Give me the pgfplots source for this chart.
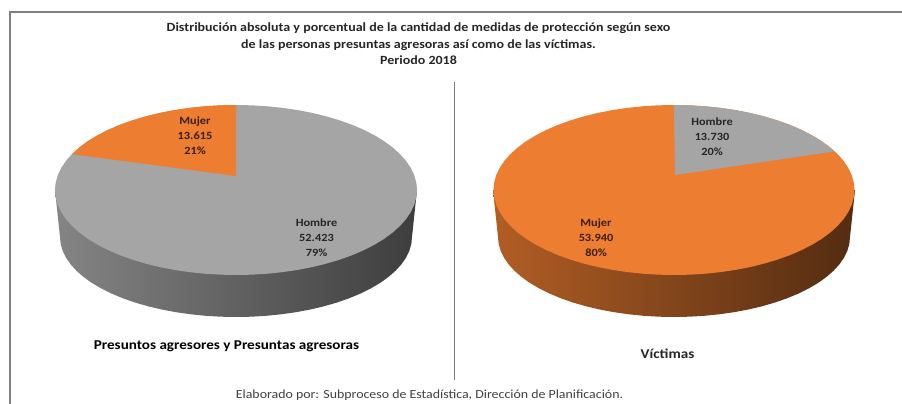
\documentclass[border=0pt]{standalone}
\usepackage{pgfplots}
\usepackage{pgfplotstable}
\pgfplotsset{compat=1.18}
\usepackage{fontspec}
\setmainfont{Carlito}
\newfontfamily\ancha[FakeStretch=1.12]{Carlito}
\definecolor{naranja}{HTML}{ED7D31}
\definecolor{gris}{HTML}{A5A5A5}
\definecolor{marco}{HTML}{7F7F7F}
\definecolor{texto}{HTML}{262626}
\definecolor{textoN}{HTML}{3A1E0C}
\pgfplotstableread{
c s
1 0
.9962 .0872
.9848 .1736
.9659 .2588
.9397 .3420
.9063 .4226
.8660 .5
.8192 .5736
.7660 .6428
.7071 .7071
.6428 .7660
.5736 .8192
.5 .8660
.4226 .9063
.3420 .9397
.2588 .9659
.1736 .9848
.0872 .9962
0 1
-.0872 .9962
-.1736 .9848
-.2588 .9659
-.3420 .9397
-.4226 .9063
-.5 .8660
-.5736 .8192
-.6428 .7660
-.7071 .7071
-.7660 .6428
-.8192 .5736
-.8660 .5
-.9063 .4226
-.9397 .3420
-.9659 .2588
-.9848 .1736
-.9962 .0872
-1 0
-.9962 -.0872
-.9848 -.1736
-.9659 -.2588
-.9397 -.3420
-.9063 -.4226
-.8660 -.5
-.8192 -.5736
-.7660 -.6428
-.7071 -.7071
-.6428 -.7660
-.5736 -.8192
-.5 -.8660
-.4226 -.9063
-.3420 -.9397
-.2588 -.9659
-.1736 -.9848
-.0872 -.9962
0 -1
.0872 -.9962
.1736 -.9848
.2588 -.9659
.3420 -.9397
.4226 -.9063
.5 -.8660
.5736 -.8192
.6428 -.7660
.7071 -.7071
.7660 -.6428
.8192 -.5736
.8660 -.5
.9063 -.4226
.9397 -.3420
.9659 -.2588
.9848 -.1736
.9962 -.0872
}\elipse
\pgfplotstableread{
c s
-1.0284 .5875
-1 0
-.9962 -.0872
-.9848 -.1736
-.9659 -.2588
-.9397 -.3420
-.9063 -.4226
-.8660 -.5
-.8192 -.5736
-.7660 -.6428
-.7071 -.7071
-.6428 -.7660
-.5736 -.8192
-.5 -.8660
-.4226 -.9063
-.3420 -.9397
-.2588 -.9659
-.1736 -.9848
-.0872 -.9962
0 -1
.0872 -.9962
.1736 -.9848
.2588 -.9659
.3420 -.9397
.4226 -.9063
.5 -.8660
.5736 -.8192
.6428 -.7660
.7071 -.7071
.7660 -.6428
.8192 -.5736
.8660 -.5
.9063 -.4226
.9397 -.3420
.9659 -.2588
.9848 -.1736
.9962 -.0872
1 0
1.0284 .5875
}\banda
\tikzset{
  lab/.style={align=center, inner sep=0pt, font=\ancha\bfseries\fontsize{11}{15}\selectfont},
}
\begin{document}
\begin{tikzpicture}
\useasboundingbox (0,0) rectangle (902pt,404pt);
\begin{axis}[
  at={(0,0)}, anchor=south west,
  scale only axis, width=902pt, height=404pt,
  xmin=0, xmax=902, ymin=0, ymax=404, y dir=reverse,
  hide axis, clip=false, no markers,
]
% marco
\addplot[draw=marco, line width=1.2pt, forget plot] coordinates {(10,404) (10,12) (902,12)};
\addplot[draw=marco, line width=1pt, forget plot] coordinates {(454,82) (454,380)};
% pie izquierdo
\addplot[draw=none, left color=black!48, middle color=black!62, right color=black!76, forget plot]
  table[x expr={236+176*\thisrow{c}}, y expr={237-80*\thisrow{s}}] {\banda};
\addplot[draw=none, fill=gris, forget plot]
  table[x expr={236+181*\thisrow{c}}, y expr={190-85*\thisrow{s}}] {\elipse};
\addplot[draw=none, fill=naranja, forget plot] coordinates {
 (236,176) (236,105) (220.2,105.3) (204.6,106.3) (189.2,107.9) (174.1,110.1)
 (159.5,113.0) (145.5,116.4) (132.2,120.4) (119.7,124.9) (108.0,129.9)
 (97.4,135.4) (87.7,141.2) (79.3,147.5) (72,154.1)};
% pie derecho
\addplot[draw=none, left color=naranja!75!black, middle color=naranja!58!black, right color=naranja!35!black, forget plot]
  table[x expr={674+176*\thisrow{c}}, y expr={237-80*\thisrow{s}}] {\banda};
\addplot[draw=none, fill=naranja, forget plot]
  table[x expr={674+180.5*\thisrow{c}}, y expr={190-85*\thisrow{s}}] {\elipse};
\addplot[draw=none, fill=gris, forget plot] coordinates {
 (675,175) (674,105) (689.7,105.3) (705.2,106.3) (720.6,107.9) (735.6,110.1)
 (750.1,113.0) (764,116.4) (777.2,120.4) (789.7,124.9) (801.3,129.9)
 (811.9,135.4) (821.5,141.2) (829.9,147.5) (834.4,151.4)};
% textos
\node[align=center, inner sep=0pt, text=texto, font=\ancha\bfseries\fontsize{12.5}{16.5}\selectfont] at (axis cs:418.5,44)
 {Distribución absoluta y porcentual de la cantidad de medidas de protección según sexo\\
  de las personas presuntas agresoras así como de las víctimas.\\ Periodo 2018};
\node[lab, text=textoN] at (axis cs:195,136) {Mujer\\13.615\\21\%};
\node[lab, text=texto] at (axis cs:316.5,237.5) {Hombre\\52.423\\79\%};
\node[lab, text=texto] at (axis cs:712,137) {Hombre\\13.730\\20\%};
\node[lab, text=textoN] at (axis cs:596,237.5) {Mujer\\53.940\\80\%};
\node[inner sep=0pt, text=black, font=\ancha\bfseries\fontsize{13.5}{15}\selectfont] at (axis cs:226.5,346) {Presuntos agresores y Presuntas agresoras};
\node[inner sep=0pt, text=black!85, font=\ancha\bfseries\fontsize{13.5}{15}\selectfont] at (axis cs:667.5,354) {Víctimas};
\node[inner sep=0pt, text=black!75, font=\ancha\fontsize{12.4}{14}\selectfont] at (axis cs:429.5,395) {Elaborado por: Subproceso de Estadística, Dirección de Planificación.};
\end{axis}
\end{tikzpicture}
\end{document}
